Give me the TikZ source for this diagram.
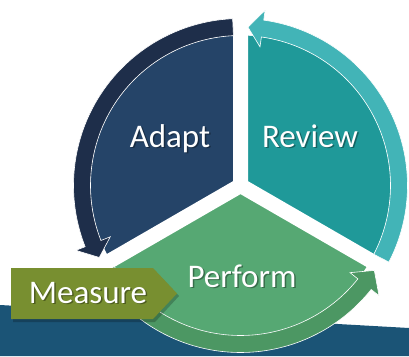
\documentclass[tikz,border=0pt]{standalone}
\usepackage{fontspec}
\setmainfont{Carlito}
\usetikzlibrary{calc}
\definecolor{adaptpie}{RGB}{37,68,104}
\definecolor{adaptring}{RGB}{30,46,74}
\definecolor{reviewpie}{RGB}{31,153,153}
\definecolor{reviewring}{RGB}{66,180,183}
\definecolor{performpie}{RGB}{86,168,115}
\definecolor{performring}{RGB}{76,151,99}
\definecolor{measuregreen}{RGB}{120,143,48}
\definecolor{bandblue}{RGB}{27,84,118}
% ring arrow: colour, start angle, base angle of the head, tip angle
\newcommand{\ringarrow}[4]{%
  \fill[#1, draw=white, line width=0.6] ($(ctr)+(#2:167)$) arc[start angle=#2, end angle=#3, radius=167]
    -- ($(ctr)+(#3:177)$) -- ($(ctr)+(#4:158.5)$) -- ($(ctr)+(#3:140)$) -- ($(ctr)+(#3:150)$)
    arc[start angle=#3, end angle=#2, radius=150] -- cycle;}
\tikzset{
  lbl/.style={text=white, anchor=base, font=\fontsize{33}{36}\selectfont, inner sep=0},
  lblshadow/.style={lbl, text=black, text opacity=0.35}
}
\begin{document}
\begin{tikzpicture}[x=1pt,y=1pt,yscale=-1,xscale=1]
\useasboundingbox (0,0) rectangle (409,356);

%Shape: Band
\fill[bandblue] (0,305) -- (409,328) -- (409,356) -- (0,356) -- cycle;

\coordinate (ctr) at (240.5,185.5);
%Shape: Pie sectors
\fill[adaptpie] (ctr) -- ++(270:150) arc[start angle=270, end angle=150, radius=150] -- cycle;
\fill[reviewpie] (ctr) -- ++(-90:150) arc[start angle=-90, end angle=30, radius=150] -- cycle;
\fill[performpie] (ctr) -- ++(30:150) arc[start angle=30, end angle=150, radius=150] -- cycle;

%Straight Lines: gaps
\draw[white, line width=15] (ctr) -- ++(-90:185) (ctr) -- ++(30:185) (ctr) -- ++(150:185);

%Curve Lines: ring arrows
\ringarrow{adaptring}{267.3}{158.5}{153}
\ringarrow{reviewring}{27.3}{-82}{-87.3}
\ringarrow{performring}{147.3}{38.5}{32.4}

%Shape: Measure box
\fill[black, opacity=0.22] (13,271) -- (155,271) -- (179,296) -- (155,322) -- (13,322) -- cycle;
\fill[measuregreen] (11,268) -- (153,268) -- (177,293.5) -- (153,319) -- (11,319) -- cycle;

% Text Node
\node[lblshadow] at (171.5,148.5) {Adapt};
\node[lbl] (adapt) at (170,147) {Adapt};
% Text Node
\node[lblshadow] at (311.5,148.5) {Review};
\node[lbl] (review) at (310,147) {Review};
% Text Node
\node[lblshadow] at (243.5,288.5) {Perform};
\node[lbl] (perform) at (242,287) {Perform};
% Text Node
\node[lblshadow] at (89.5,304.5) {Measure};
\node[lbl] (measure) at (88,303) {Measure};

\end{tikzpicture}
\end{document}
